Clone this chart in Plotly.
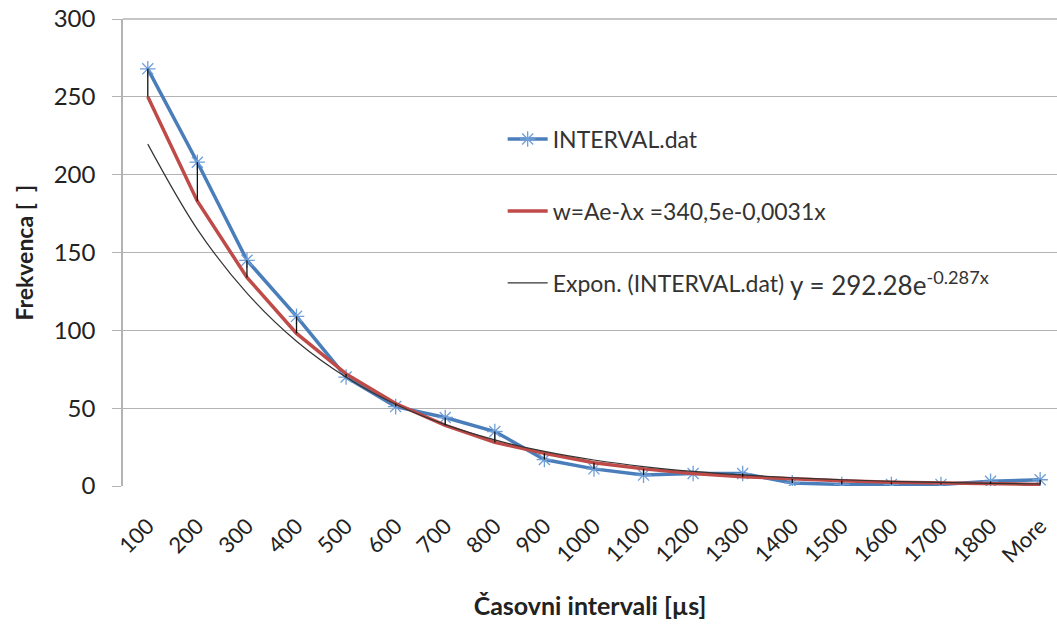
import plotly.graph_objects as go

categories = ["100", "200", "300", "400", "500", "600", "700", "800", "900", "1000",
              "1100", "1200", "1300", "1400", "1500", "1600", "1700", "1800", "More"]
interval_dat = [268, 208, 145, 109, 70, 51, 44, 35, 17, 11, 7, 8, 8, 2, 1, 1, 1, 3, 4]
model_w = [250, 183, 134, 98, 72, 53, 39, 28, 21, 15, 11, 8, 6, 4.5, 3.3, 2.4, 1.8, 1.3, 1.0]
expon_trend = [219.6, 164.9, 123.9, 93.0, 69.9, 52.5, 39.4, 29.6, 22.2, 16.7,
               12.5, 9.4, 7.1, 5.3, 4.0, 3.0, 2.3, 1.7, 1.3]
y_ticks = [0, 50, 100, 150, 200, 250, 300]

FONT = "Lato, 'Open Sans', sans-serif"
GRID = "#b3b3b3"
idx = list(range(len(categories)))

# high-low connector lines between data and model
hl_x, hl_y = [], []
for i, (a, b) in enumerate(zip(interval_dat, model_w)):
    hl_x += [i, i, None]
    hl_y += [a, b, None]

fig = go.Figure()
fig.add_trace(go.Scatter(
    x=idx, y=interval_dat, name="INTERVAL.dat", mode="lines+markers",
    line=dict(color="#4a7ebb", width=3.5),
    marker=dict(symbol="asterisk-open", size=13, color="#6f9fd8",
                line=dict(color="#6f9fd8", width=1.3)),
    legendgroup="a"))
fig.add_trace(go.Scatter(
    x=idx, y=model_w, name="w=Ae-λx =340,5e-0,0031x", mode="lines",
    line=dict(color="#be4b48", width=3.5), legendgroup="b"))
fig.add_trace(go.Scatter(
    x=idx, y=expon_trend, name="Expon. (INTERVAL.dat)", mode="lines",
    line=dict(color="#333333", width=1.2, shape="spline"), legendgroup="c"))
fig.add_trace(go.Scatter(
    x=hl_x, y=hl_y, mode="lines", showlegend=False,
    line=dict(color="#111111", width=1.3), hoverinfo="skip"))

fig.add_annotation(
    x=0.712, y=130, xref="paper", yref="y", xanchor="left", yanchor="middle",
    text="y = 292.28e<sup>-0.287x</sup>", showarrow=False,
    font=dict(family=FONT, size=26, color="#333333"))

# y-axis title
fig.add_annotation(
    x=-0.107, y=0.5, xref="paper", yref="paper", xanchor="center", yanchor="middle",
    text="<b>Frekvenca [  ]</b>", textangle=-90, showarrow=False,
    font=dict(family=FONT, size=23, color="#222222"))

# top gridline at the maximum of the value axis
fig.add_shape(type="line", xref="paper", x0=0, x1=1, yref="paper",
              y0=1, y1=1, line=dict(color=GRID, width=1.5), layer="below")

fig.update_layout(
    width=1057, height=631,
    margin=dict(l=123, r=0, t=19, b=145),
    paper_bgcolor="white", plot_bgcolor="white",
    font=dict(family=FONT, size=21, color="#333333"),
    showlegend=True,
    legend=dict(x=0.4065, y=0.789, xanchor="left", yanchor="top",
                bgcolor="rgba(0,0,0,0)", traceorder="grouped",
                tracegroupgap=39, font=dict(size=23, color="#333333"),
                itemwidth=40),
    xaxis=dict(
        range=[-0.5, 18.34], tickmode="array", tickvals=idx, ticktext=categories,
        tickangle=-45, showgrid=False, zeroline=False, showline=False,
        ticks="", ticklabelstandoff=22, ticklabeloverflow="allow",
        automargin=False,
        tickfont=dict(size=22, color="#222222"),
        title=dict(text="<b>Časovni intervali [µs]</b>", standoff=30,
                   font=dict(size=25, color="#222222"))),
    yaxis=dict(
        range=[0, 300], tickvals=y_ticks, showgrid=True, gridcolor=GRID,
        gridwidth=1.2, zeroline=False, showline=True, linecolor=GRID,
        linewidth=1.5, ticks="outside", ticklen=9, tickcolor=GRID,
        ticklabelstandoff=12, ticklabeloverflow="allow", automargin=False,
        tickfont=dict(size=24, color="#222222")),
)

fig.write_html("out.html", config={"displayModeBar": False},
               post_script="document.body.style.margin='0';document.body.style.overflow='hidden';")
